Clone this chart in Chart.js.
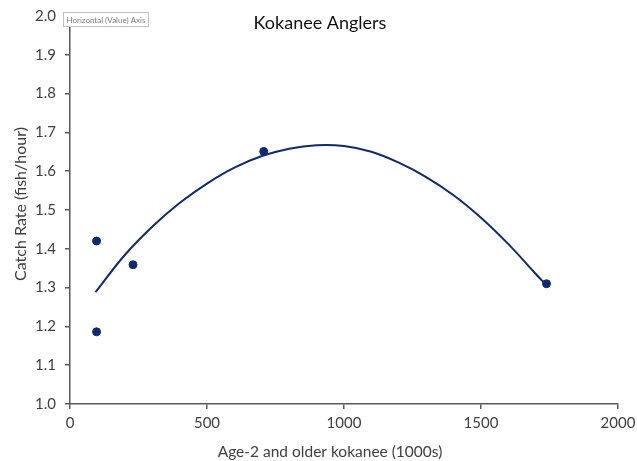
<!DOCTYPE html>
<html>
<head>
<meta charset="utf-8">
<script src="https://cdn.jsdelivr.net/npm/chart.js@4.4.0/dist/chart.umd.min.js"></script>
<style>
html,body{margin:0;padding:0;background:#fff;}
#wrap{width:637px;height:461px;position:relative;}
</style>
</head>
<body>
<div id="wrap"><canvas id="c" width="637" height="461"></canvas></div>
<script>
// Observed data points (kokanee in 1000s, catch rate fish/hour)
const obsX = [97, 97, 230, 707, 1739];
const obsY = [1.42, 1.186, 1.359, 1.651, 1.31];
// Trend line
const trendX = [93, 200, 300, 400, 500, 600, 700, 800, 900, 1000, 1100, 1200, 1300, 1400, 1500, 1600, 1700, 1739];
const trendY = [1.288, 1.384, 1.457, 1.518, 1.568, 1.609, 1.639, 1.658, 1.667, 1.665, 1.650, 1.622, 1.585, 1.538, 1.480, 1.412, 1.335, 1.306];
const xTicks = [0, 500, 1000, 1500, 2000];
const yTicks = [1.0, 1.1, 1.2, 1.3, 1.4, 1.5, 1.6, 1.7, 1.8, 1.9, 2.0];
const chartTitle = 'Kokanee Anglers';
const xTitle = 'Age-2 and older kokanee (1000s)';
const yTitle = 'Catch Rate (fish/hour)';
const hoverLabel = 'Horizontal (Value) Axis';

const navy = '#0f2a6e';
const FONT = 'Lato, "Open Sans", sans-serif';

const overlay = {
  id: 'overlay',
  afterDraw(chart) {
    const ctx = chart.ctx;
    ctx.save();
    ctx.textAlign = 'center';
    ctx.textBaseline = 'middle';
    ctx.font = '18px ' + FONT;
    ctx.fillStyle = '#111';
    ctx.fillText(chartTitle, 320, 23);
    ctx.font = '15.5px ' + FONT;
    ctx.fillStyle = '#404040';
    ctx.fillText(xTitle, 330, 452);
    ctx.save();
    ctx.translate(21, 204);
    ctx.rotate(-Math.PI / 2);
    ctx.font = '16px ' + FONT;
    ctx.fillText(yTitle, 0, 0);
    ctx.restore();
    // little axis hover label box
    ctx.font = '8px ' + FONT;
    const w = ctx.measureText(hoverLabel).width + 6;
    ctx.fillStyle = '#fff';
    ctx.fillRect(63.5, 12.5, w, 14);
    ctx.strokeStyle = '#c0c0c0';
    ctx.lineWidth = 1;
    ctx.strokeRect(63.5, 12.5, w, 14);
    ctx.fillStyle = '#808080';
    ctx.textAlign = 'left';
    ctx.fillText(hoverLabel, 66.5, 20);
    ctx.restore();
  }
};

new Chart(document.getElementById('c'), {
  type: 'scatter',
  data: {
    datasets: [
      {
        label: 'Trend',
        data: trendX.map((x, i) => ({x: x, y: trendY[i]})),
        showLine: true,
        borderColor: navy,
        borderWidth: 2,
        pointRadius: 0,
        tension: 0.4,
        order: 2
      },
      {
        label: 'Observed',
        data: obsX.map((x, i) => ({x: x, y: obsY[i]})),
        backgroundColor: navy,
        borderColor: navy,
        pointRadius: 4,
        pointHoverRadius: 4,
        order: 1
      }
    ]
  },
  options: {
    responsive: false,
    animation: false,
    layout: {padding: {top: 16, right: 19, left: 0, bottom: 0}},
    plugins: {legend: {display: false}, tooltip: {enabled: false}, title: {display: false}},
    scales: {
      x: {
        type: 'linear', min: 0, max: 2000,
        afterFit(s) { s.height = 57; s.paddingLeft = 0; s.paddingRight = 0; },
        afterBuildTicks(s) { s.ticks = xTicks.map(v => ({value: v})); },
        border: {display: true, color: '#595959', width: 1.5},
        grid: {display: true, drawOnChartArea: false, color: '#595959', tickLength: 5, lineWidth: 1.5},
        ticks: {color: '#404040', font: {family: FONT, size: 15}, padding: 5, callback: v => String(v)}
      },
      y: {
        type: 'linear', min: 1.0, max: 2.0,
        afterFit(s) { s.width = 70; s.paddingTop = 0; s.paddingBottom = 0; },
        afterBuildTicks(s) { s.ticks = yTicks.map(v => ({value: v})); },
        border: {display: true, color: '#595959', width: 1.5},
        grid: {display: true, drawOnChartArea: false, color: '#595959', tickLength: 5, lineWidth: 1.5},
        ticks: {color: '#404040', font: {family: FONT, size: 15}, padding: 9, callback: v => v.toFixed(1)}
      }
    }
  },
  plugins: [overlay]
});
</script>
</body>
</html>
